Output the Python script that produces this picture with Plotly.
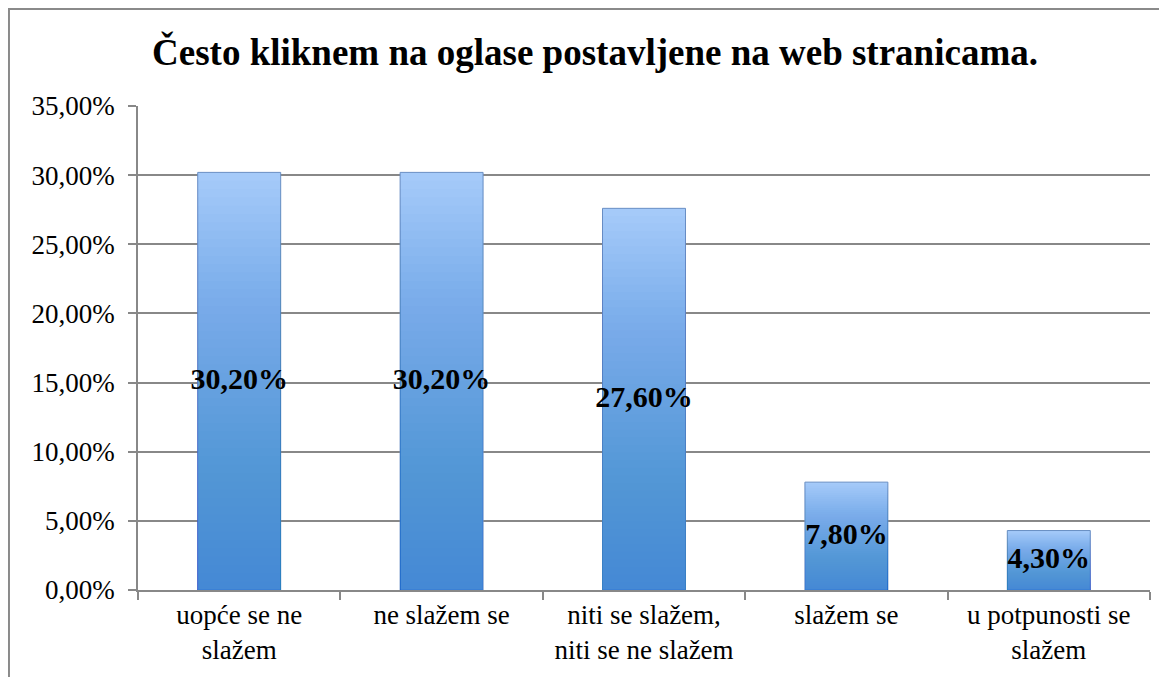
import plotly.graph_objects as go

categories = ["uopće se ne<br>slažem", "ne slažem se", "niti se slažem,<br>niti se ne slažem",
              "slažem se", "u potpunosti se<br>slažem"]
values = [30.2, 30.2, 27.6, 7.8, 4.3]
labels = ["30,20%", "30,20%", "27,60%", "7,80%", "4,30%"]
tick_vals = [0, 5, 10, 15, 20, 25, 30, 35]
tick_text = ["0,00%", "5,00%", "10,00%", "15,00%", "20,00%", "25,00%", "30,00%", "35,00%"]

serif = "Liberation Serif"

fig = go.Figure()

# base bar (light top colour)
fig.add_trace(go.Bar(x=categories, y=values, width=0.41,
                     marker=dict(color="#a8ccfa", line=dict(color="#6a8fc4", width=1)),
                     hoverinfo="skip", showlegend=False))

# fake vertical gradient: stacked translucent layers, darker towards the bottom
n = 50
for k in range(1, n + 1):
    fig.add_trace(go.Bar(x=categories, y=[v * k / n for v in values], width=0.41,
                         marker=dict(color="rgba(37,112,213,0.025)", line=dict(width=0)),
                         hoverinfo="skip", showlegend=False))

# data labels in the middle of each bar
fig.add_trace(go.Scatter(x=categories, y=[v / 2 for v in values], mode="text", text=labels,
                         textfont=dict(family=serif, size=30, color="black", weight="bold"),
                         cliponaxis=False, showlegend=False, hoverinfo="skip"))

fig.update_layout(
    width=1167, height=677,
    barmode="overlay",
    bargap=0.59,
    margin=dict(l=130, r=25, t=98, b=95),
    plot_bgcolor="white", paper_bgcolor="white",
    title=dict(text="<b>Često kliknem na oglase postavljene na web stranicama.</b>",
               x=0.503, xanchor="center", y=0.935, yanchor="middle",
               font=dict(family=serif, size=37, color="black")),
    font=dict(family=serif, size=27, color="black"),
    shapes=[dict(type="rect", xref="paper", yref="paper",
                 x0=-0.1275, x1=1.05, y0=-0.3, y1=1.2004,
                 line=dict(color="#8a8a8a", width=2), fillcolor="rgba(0,0,0,0)", layer="below")],
)

fig.update_yaxes(range=[0, 35], tickvals=tick_vals, ticktext=tick_text,
                 tickfont=dict(family=serif, size=27, color="black"),
                 ticklabelstandoff=8,
                 showgrid=True, gridcolor="#888888", gridwidth=1.5,
                 showline=True, linecolor="#888888", linewidth=1.5,
                 ticks="outside", ticklen=8, tickcolor="#888888", tickwidth=1.5,
                 zeroline=False, fixedrange=True)
fig.update_xaxes(tickfont=dict(family=serif, size=27, color="black"),
                 showline=True, linecolor="#888888", linewidth=1.5,
                 ticks="outside", tickson="boundaries", ticklen=8, tickcolor="#888888",
                 tickwidth=1.5, showgrid=False, fixedrange=True)

fig.write_html("out.html")
